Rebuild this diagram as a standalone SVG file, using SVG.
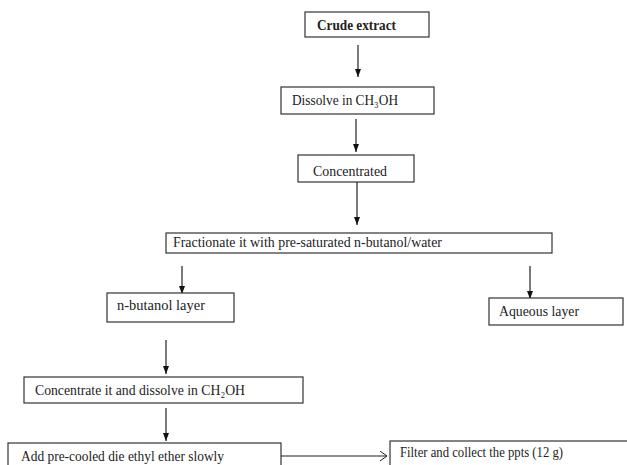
<svg xmlns="http://www.w3.org/2000/svg" width="627" height="465" viewBox="0 0 627 465">
<defs>
<marker id="tri" markerUnits="userSpaceOnUse" markerWidth="10" markerHeight="10" refX="8" refY="4" orient="auto">
<path d="M0,1 L8,4 L0,7 Z" fill="#111"/>
</marker>
<marker id="open" markerUnits="userSpaceOnUse" markerWidth="10" markerHeight="12" refX="7" refY="5" orient="auto">
<path d="M0,0 L7,5 L0,10" fill="none" stroke="#222" stroke-width="1"/>
</marker>
</defs>
<style>
rect{fill:#fff;stroke:#333;stroke-width:1.2}
text{font-family:"Liberation Serif","Times New Roman","DejaVu Serif",serif;font-size:14.5px;fill:#222}
.b{font-weight:bold}
.c line{stroke:#222;stroke-width:1.2;fill:none}
</style>
<rect x="0" y="0" width="627" height="465" style="fill:#fff;stroke:none"/>
<g class="c" id="connectors">
<line x1="358" y1="45" x2="358" y2="77" marker-end="url(#tri)"/>
<line x1="356" y1="119" x2="356" y2="152" marker-end="url(#tri)"/>
<line x1="357" y1="182" x2="357" y2="225" marker-end="url(#tri)"/>
<line x1="182" y1="266" x2="182" y2="294" marker-end="url(#tri)"/>
<line x1="530" y1="266" x2="530" y2="299" marker-end="url(#tri)"/>
<line x1="166" y1="340" x2="166" y2="374" marker-end="url(#tri)"/>
<line x1="166" y1="408" x2="166" y2="441" marker-end="url(#tri)"/>
<line x1="281" y1="456" x2="387" y2="456" marker-end="url(#open)"/>
</g>
<g id="crude">
<rect x="305" y="12" width="124" height="25"/>
<text class="b" x="317" y="30" textLength="79" lengthAdjust="spacingAndGlyphs">Crude  extract</text>
</g>
<g id="dissolve">
<rect x="281" y="87" width="153" height="27"/>
<text x="292" y="105" textLength="106" lengthAdjust="spacingAndGlyphs">Dissolve in CH₃OH</text>
</g>
<g id="concentrated">
<rect x="298" y="155" width="116" height="27"/>
<text x="313" y="176" textLength="74" lengthAdjust="spacingAndGlyphs">Concentrated</text>
</g>
<g id="fractionate">
<rect x="166" y="233" width="386" height="20"/>
<text x="173" y="247" textLength="269" lengthAdjust="spacingAndGlyphs">Fractionate it with pre-saturated n-butanol/water</text>
</g>
<g id="butanol">
<rect x="107" y="293" width="127" height="29"/>
<text x="117" y="310" textLength="88" lengthAdjust="spacingAndGlyphs">n-butanol  layer</text>
</g>
<g id="aqueous">
<rect x="489" y="298" width="134" height="27"/>
<text x="499" y="316" textLength="80" lengthAdjust="spacingAndGlyphs">Aqueous layer</text>
</g>
<g id="concentrate2">
<rect x="24" y="377" width="279" height="26"/>
<text x="35" y="395" textLength="210" lengthAdjust="spacingAndGlyphs">Concentrate it and dissolve in CH₂OH</text>
</g>
<g id="addether">
<rect x="8" y="443" width="273" height="30"/>
<text x="21" y="461" textLength="203" lengthAdjust="spacingAndGlyphs">Add pre-cooled die ethyl ether slowly</text>
</g>
<g id="filter">
<rect x="390" y="441" width="240" height="30"/>
<text x="400" y="457" textLength="163" lengthAdjust="spacingAndGlyphs">Filter and collect the ppts (12 g)</text>
</g>
</svg>
